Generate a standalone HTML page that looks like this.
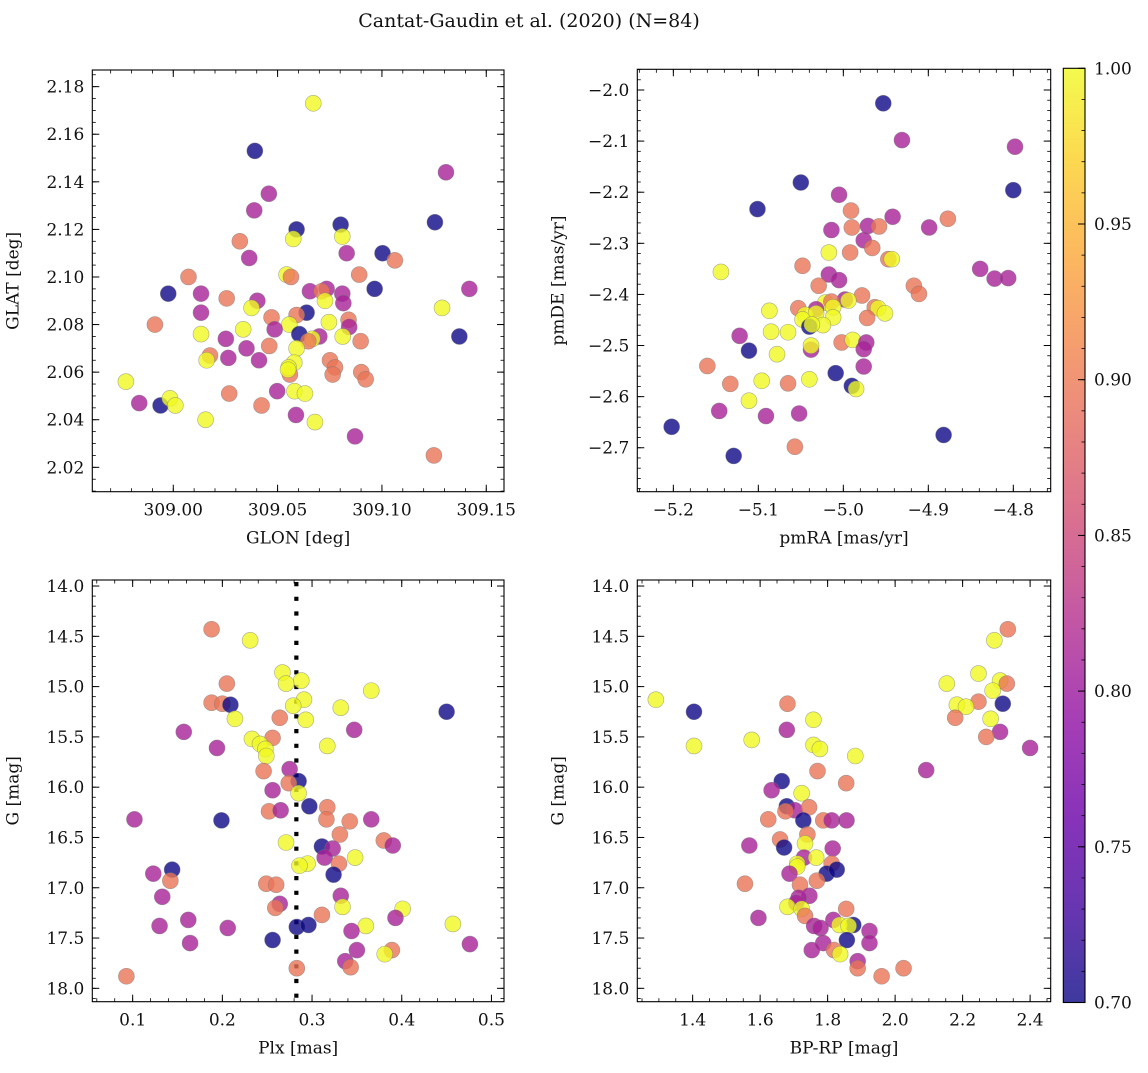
<!DOCTYPE html>
<html><head><meta charset="utf-8">
<style>
html,body{margin:0;padding:0;background:#fff;}
svg text{font-family:"DejaVu Serif","Liberation Serif",serif;fill:#111;}
</style></head>
<body>
<svg id="fig" width="1148" height="1068" viewBox="0 0 1148 1068" xmlns="http://www.w3.org/2000/svg">
<text x="529" y="27" font-size="19" text-anchor="middle">Cantat-Gaudin et al. (2020) (N=84)</text>
</svg>
<script>
// Panel 1: GLON vs GLAT
const p1x=[309.0671,309.0391,309.1307,309.0458,309.0388,309.1254,309.0802,309.0591,309.0810,309.0575,309.0319,309.0831,309.1003,309.1062,309.0364,309.0073,309.0543,309.0564,309.0891,308.9976,309.0133,309.0965,309.1419,309.0655,309.0735,309.0711,309.0810,309.0256,309.0403,309.0727,309.0815,309.0375,309.1288,309.0133,309.0639,309.0591,309.0471,309.0840,309.0843,308.9912,309.0556,309.0746,309.0335,309.0486,309.0133,309.0604,309.1371,309.0812,309.0700,309.0666,309.0647,309.0252,309.0898,309.0460,309.0351,309.0591,309.0176,309.0264,309.0160,309.0411,309.0751,309.0775,309.0580,309.0764,309.0559,309.0553,309.0901,309.0922,308.9773,308.9837,308.9939,308.9984,309.0010,309.0268,309.0498,309.0581,309.0631,309.0423,309.0155,309.0588,309.0679,309.0871,309.1249,309.0550];
const p1y=[2.173,2.153,2.144,2.135,2.128,2.123,2.122,2.120,2.117,2.116,2.115,2.110,2.110,2.107,2.108,2.100,2.101,2.100,2.101,2.093,2.093,2.095,2.095,2.094,2.095,2.094,2.093,2.091,2.090,2.090,2.089,2.087,2.087,2.085,2.085,2.084,2.083,2.082,2.079,2.080,2.080,2.081,2.078,2.078,2.076,2.076,2.075,2.075,2.075,2.074,2.073,2.074,2.073,2.071,2.070,2.070,2.067,2.066,2.065,2.065,2.065,2.062,2.064,2.059,2.059,2.062,2.060,2.057,2.056,2.047,2.046,2.049,2.046,2.051,2.052,2.052,2.051,2.046,2.040,2.042,2.039,2.033,2.025,2.061];
const p1c=[1,.7,.81,.81,.81,.7,.7,.7,1,1,.895,.81,.7,.895,.81,.895,1,.895,.895,.7,.81,.7,.81,.81,.81,.895,.81,.895,.81,1,.81,1,1,.81,.7,.895,.895,.895,.81,.895,1,1,1,.81,1,.7,.7,1,.81,1,.895,.81,.895,.895,.81,1,.895,.81,1,.81,.895,.895,1,.895,.895,1,.895,.895,1,.81,.7,1,1,.895,.81,1,1,.895,1,.81,1,.81,.895,1];
// Panel 2: pmRA vs pmDE
const p2x=[-4.953,-4.931,-4.798,-5.050,-4.800,-5.101,-5.005,-4.991,-5.014,-4.990,-4.971,-4.958,-4.942,-4.899,-4.877,-4.976,-4.966,-5.017,-4.992,-4.947,-4.943,-5.144,-5.048,-5.017,-5.005,-4.839,-4.822,-4.806,-5.029,-4.917,-4.911,-4.978,-4.998,-4.994,-5.021,-5.014,-5.053,-5.087,-5.032,-5.045,-5.032,-5.012,-4.963,-4.959,-4.951,-4.972,-5.012,-5.048,-5.024,-5.040,-5.037,-5.085,-5.065,-5.122,-5.078,-5.111,-5.038,-5.038,-5.002,-4.989,-4.973,-4.976,-4.976,-5.160,-5.009,-5.096,-5.040,-5.133,-5.065,-4.990,-4.985,-5.111,-5.146,-5.091,-5.052,-5.202,-4.882,-5.057,-5.129];
const p2y=[-2.026,-2.098,-2.111,-2.181,-2.196,-2.233,-2.205,-2.236,-2.274,-2.269,-2.266,-2.267,-2.248,-2.269,-2.252,-2.294,-2.309,-2.318,-2.318,-2.331,-2.331,-2.356,-2.344,-2.361,-2.372,-2.350,-2.369,-2.368,-2.383,-2.383,-2.399,-2.402,-2.410,-2.412,-2.416,-2.414,-2.427,-2.432,-2.429,-2.440,-2.437,-2.425,-2.425,-2.427,-2.437,-2.446,-2.445,-2.449,-2.460,-2.463,-2.459,-2.473,-2.474,-2.481,-2.517,-2.510,-2.508,-2.500,-2.494,-2.489,-2.494,-2.507,-2.541,-2.540,-2.554,-2.569,-2.566,-2.575,-2.574,-2.579,-2.585,-2.608,-2.628,-2.638,-2.633,-2.659,-2.675,-2.698,-2.716];
const p2c=[.7,.81,.81,.7,.7,.7,.81,.895,.81,.895,.81,.895,.81,.81,.895,.81,.895,1,.895,.895,1,1,.895,.81,.81,.81,.81,.81,.895,.895,.895,.895,.81,1,1,.895,.895,1,.81,1,1,1,.895,1,1,.895,1,1,1,.7,1,1,1,.81,1,.7,.81,1,.895,1,.81,.81,.81,.895,.7,1,1,.895,.895,.7,1,1,.81,.81,.81,.7,.7,.895,.7];
// Panel 3: Plx vs G
const p3x=[0.188,0.231,0.267,0.288,0.271,0.205,0.366,0.188,0.200,0.209,0.291,0.279,0.332,0.450,0.214,0.264,0.293,0.347,0.157,0.256,0.233,0.242,0.248,0.317,0.194,0.249,0.246,0.275,0.285,0.274,0.285,0.256,0.297,0.317,0.252,0.265,0.199,0.102,0.316,0.342,0.366,0.331,0.271,0.380,0.390,0.311,0.323,0.314,0.348,0.295,0.286,0.330,0.324,0.144,0.123,0.142,0.249,0.260,0.133,0.332,0.264,0.259,0.334,0.401,0.311,0.393,0.162,0.130,0.206,0.283,0.296,0.360,0.457,0.344,0.256,0.164,0.476,0.350,0.389,0.381,0.337,0.343,0.283,0.093];
const p3y=[14.43,14.54,14.86,14.94,14.97,14.97,15.04,15.16,15.17,15.18,15.13,15.19,15.21,15.25,15.32,15.31,15.33,15.43,15.45,15.51,15.52,15.57,15.62,15.59,15.61,15.69,15.84,15.82,15.94,15.96,16.06,16.03,16.19,16.20,16.24,16.23,16.33,16.32,16.32,16.34,16.32,16.47,16.55,16.53,16.58,16.59,16.61,16.70,16.70,16.76,16.78,16.76,16.87,16.82,16.86,16.93,16.96,16.97,17.09,17.08,17.16,17.20,17.19,17.21,17.27,17.30,17.32,17.38,17.40,17.39,17.37,17.38,17.36,17.43,17.52,17.55,17.56,17.62,17.62,17.66,17.73,17.79,17.80,17.88];
const p3c=[.895,1,1,1,1,.895,1,.895,.895,.7,1,1,1,.7,1,.895,1,.81,.81,.895,1,1,1,1,.81,1,.895,.81,.7,.895,1,.81,.7,.895,.895,.81,.7,.81,.895,.895,.81,.895,1,.895,.81,.7,.81,.81,1,1,1,.895,.7,.7,.81,.895,.895,.895,.81,.81,.81,.895,1,1,.895,.81,.81,.81,.81,.7,.7,1,1,.81,.7,.81,.81,.81,.895,1,.81,.895,.895,.895];
// Panel 4: BP-RP vs G
const p4x=[1.291,1.404,1.404,1.575,1.681,1.679,1.758,1.758,1.777,1.882,1.770,1.855,1.664,1.634,1.723,1.679,1.703,1.675,1.745,1.728,1.624,1.787,1.812,1.856,1.740,1.659,1.733,1.568,1.671,1.815,1.730,1.766,1.710,1.710,1.812,1.797,1.827,1.687,1.768,1.718,1.555,1.746,1.714,1.707,1.681,1.723,1.855,1.733,1.595,1.817,1.876,1.835,1.862,1.760,1.779,1.924,1.857,1.924,1.787,1.753,1.819,1.837,1.889,1.889,1.960,2.025,2.092,2.153,2.247,2.294,2.334,2.311,2.331,2.289,2.247,2.183,2.210,2.319,2.178,2.283,2.311,2.270,2.400];
const p4y=[15.13,15.25,15.59,15.53,15.17,15.43,15.33,15.58,15.62,15.69,15.84,15.96,15.94,16.03,16.06,16.19,16.23,16.24,16.20,16.33,16.32,16.33,16.33,16.33,16.47,16.52,16.56,16.58,16.60,16.61,16.70,16.70,16.76,16.79,16.76,16.86,16.82,16.86,16.93,16.97,16.96,17.08,17.10,17.15,17.19,17.21,17.21,17.28,17.30,17.32,17.37,17.37,17.38,17.38,17.40,17.43,17.52,17.55,17.55,17.62,17.62,17.66,17.73,17.80,17.88,17.80,15.83,14.97,14.87,14.54,14.43,14.94,14.97,15.04,15.15,15.18,15.20,15.17,15.31,15.32,15.45,15.50,15.61];
const p4c=[1,.7,1,1,.895,.81,1,1,1,1,.895,.895,.7,.81,1,.7,.81,.895,.895,.7,.895,.895,.81,.81,.895,.895,1,.81,.7,.81,.81,1,1,1,.895,.7,.7,.81,.895,.895,.895,.81,.81,.81,1,1,.895,.895,.81,.81,.7,1,1,.81,.81,.81,.7,.81,.81,.81,.895,1,.81,.895,.895,.895,.81,1,1,1,.895,1,.895,1,.895,1,1,.7,.895,1,.81,.895,.81];
// Tick arrays
const p1xTicks=[309.00,309.05,309.10,309.15];
const p1yTicks=[2.02,2.04,2.06,2.08,2.10,2.12,2.14,2.16,2.18];
const p2xTicks=[-5.2,-5.1,-5.0,-4.9,-4.8];
const p2yTicks=[-2.7,-2.6,-2.5,-2.4,-2.3,-2.2,-2.1,-2.0];
const p3xTicks=[0.1,0.2,0.3,0.4,0.5];
const gTicks=[14.0,14.5,15.0,15.5,16.0,16.5,17.0,17.5,18.0];
const p4xTicks=[1.4,1.6,1.8,2.0,2.2,2.4];
const cbTicks=[0.70,0.75,0.80,0.85,0.90,0.95,1.00];
const plxLine=0.2825;

const NS="http://www.w3.org/2000/svg";
const svg=document.getElementById('fig');
function mk(tag,attrs,parent){const e=document.createElementNS(NS,tag);for(const k in attrs)e.setAttribute(k,attrs[k]);(parent||svg).appendChild(e);return e;}
const stops=[[13,8,135],[65,4,157],[106,0,168],[143,13,164],[177,42,144],[204,71,120],[225,100,98],[242,132,75],[252,166,54],[252,206,37],[240,249,33]];
function plasma(t){t=Math.max(0,Math.min(1,t));const f=t*10,i=Math.min(9,Math.floor(f)),r=f-i;const a=stops[i],b=stops[i+1];return 'rgb('+[0,1,2].map(k=>Math.round(a[k]+(b[k]-a[k])*r)).join(',')+')';}
function cnorm(v){return (v-0.70)/0.30;}
function fmt(v,d){const s=Math.abs(v).toFixed(d);return (v<0?'\u2212':'')+s;}

function panel(cfg){
  const {L,R,T,B,x0,x1,y0,y1}=cfg;
  const sx=v=>L+(v-x0)/(x1-x0)*(R-L);
  const sy=cfg.invert ? (v=>T+(v-y0)/(y1-y0)*(B-T)) : (v=>T+(y1-v)/(y1-y0)*(B-T));
  const g=mk('g',{});
  
  
  const clipId='clip-'+cfg.name;
  const cp=mk('clipPath',{id:clipId},g);mk('rect',{x:L,y:T,width:R-L,height:B-T},cp);
  const pg=mk('g',{'clip-path':'url(#'+clipId+')'},g);
  if(cfg.vline!==undefined){
    const vl=mk('line',{x1:sx(cfg.vline),x2:sx(cfg.vline),y1:T+2,y2:B,stroke:'#000','stroke-width':4.2,'stroke-dasharray':'4.2 10.5'},pg);
    
    
  }
  for(let i=0;i<cfg.xs.length;i++){
    const c=mk('circle',{cx:sx(cfg.xs[i]),cy:sy(cfg.ys[i]),r:8,fill:plasma(cnorm(cfg.cs[i])),'fill-opacity':0.8,stroke:'#777','stroke-opacity':0.6,'stroke-width':0.6},pg);
    
    
  }
  mk('rect',{x:L,y:T,width:R-L,height:B-T,fill:'none',stroke:'#000','stroke-width':1.1},g);
  const eps=1e-9;
  for(let v=Math.ceil(x0/cfg.xm)*cfg.xm;v<=x1+eps;v+=cfg.xm){const X=sx(v);mk('line',{x1:X,x2:X,y1:B,y2:B-3.5,stroke:'#000','stroke-width':0.8},g);mk('line',{x1:X,x2:X,y1:T,y2:T+3.5,stroke:'#000','stroke-width':0.8},g);}
  for(let v=Math.ceil(y0/cfg.ym)*cfg.ym;v<=y1+eps;v+=cfg.ym){const Y=sy(v);mk('line',{x1:L,x2:L+3.5,y1:Y,y2:Y,stroke:'#000','stroke-width':0.8},g);mk('line',{x1:R,x2:R-3.5,y1:Y,y2:Y,stroke:'#000','stroke-width':0.8},g);}
  cfg.xt.forEach(v=>{const X=sx(v);mk('line',{x1:X,x2:X,y1:B,y2:B-7,stroke:'#000','stroke-width':1},g);mk('line',{x1:X,x2:X,y1:T,y2:T+7,stroke:'#000','stroke-width':1},g);
    const t=mk('text',{x:X,y:B+24,'font-size':17,'text-anchor':'middle'},g);t.textContent=fmt(v,cfg.xd);
    
    });
  cfg.yt.forEach(v=>{const Y=sy(v);mk('line',{x1:L,x2:L+7,y1:Y,y2:Y,stroke:'#000','stroke-width':1},g);mk('line',{x1:R,x2:R-7,y1:Y,y2:Y,stroke:'#000','stroke-width':1},g);
    const t=mk('text',{x:L-8,y:Y+6,'font-size':17,'text-anchor':'end'},g);t.textContent=fmt(v,cfg.yd);
    
    });
  const xl=mk('text',{x:(L+R)/2,y:B+52,'font-size':17,'text-anchor':'middle'},g);xl.textContent=cfg.xl;
  
  
  const yx=L-74,yy=(T+B)/2;
  const yl=mk('text',{x:yx,y:yy,'font-size':17,'text-anchor':'middle',transform:'rotate(-90 '+yx+' '+yy+')'},g);yl.textContent=cfg.yl;
  
  
}
panel({name:'glon-glat-panel',L:92.3,R:504,T:70,B:491.7,x0:308.9612,x1:309.1585,y0:2.00975,y1:2.187,xs:p1x,ys:p1y,cs:p1c,xt:p1xTicks,yt:p1yTicks,xm:0.01,ym:0.005,xd:2,yd:2,xl:'GLON [deg]',yl:'GLAT [deg]'});
panel({name:'proper-motion-panel',L:637.3,R:1050.7,T:69.3,B:491.7,x0:-5.2424,x1:-4.756,y0:-2.786,y1:-1.9595,xs:p2x,ys:p2y,cs:p2c,xt:p2xTicks,yt:p2yTicks,xm:0.02,ym:0.02,xd:1,yd:1,xl:'pmRA [mas/yr]',yl:'pmDE [mas/yr]'});
panel({name:'parallax-panel',invert:true,L:92.3,R:504,T:580,B:1001.7,x0:0.055,x1:0.514,y0:13.94,y1:18.133,xs:p3x,ys:p3y,cs:p3c,xt:p3xTicks,yt:gTicks,xm:0.02,ym:0.1,xd:1,yd:1,xl:'Plx [mas]',yl:'G [mag]',vline:plxLine});
panel({name:'cmd-panel',invert:true,L:637.3,R:1050.7,T:580,B:1001.7,x0:1.236,x1:2.461,y0:13.94,y1:18.133,xs:p4x,ys:p4y,cs:p4c,xt:p4xTicks,yt:gTicks,xm:0.05,ym:0.1,xd:1,yd:1,xl:'BP-RP [mag]',yl:'G [mag]'});

// Colorbar
(function(){
  const L=1063.3,R=1085,T=68.3,B=1002.5;
  const g=mk('g',{});
  
  
  const defs=mk('defs',{},g);
  const lg=mk('linearGradient',{id:'cbgrad',x1:0,y1:1,x2:0,y2:0},defs);
  for(let i=0;i<=20;i++){mk('stop',{offset:i/20,'stop-color':plasma(i/20),'stop-opacity':0.8},lg);}
  mk('rect',{x:L,y:T,width:R-L,height:B-T,fill:'url(#cbgrad)',stroke:'#000','stroke-width':1.1},g);
  const sy=v=>B-(v-0.70)/0.30*(B-T);
  for(let v=0.70;v<=1.0001;v+=0.01){const Y=sy(v);mk('line',{x1:R,x2:R-3.5,y1:Y,y2:Y,stroke:'#000','stroke-width':0.8},g);}
  cbTicks.forEach(v=>{const Y=sy(v);mk('line',{x1:R,x2:R-7,y1:Y,y2:Y,stroke:'#000','stroke-width':1},g);
    const t=mk('text',{x:R+9,y:Y+6,'font-size':17},g);t.textContent=v.toFixed(2);
    
    });
})();
</script>
</body></html>
